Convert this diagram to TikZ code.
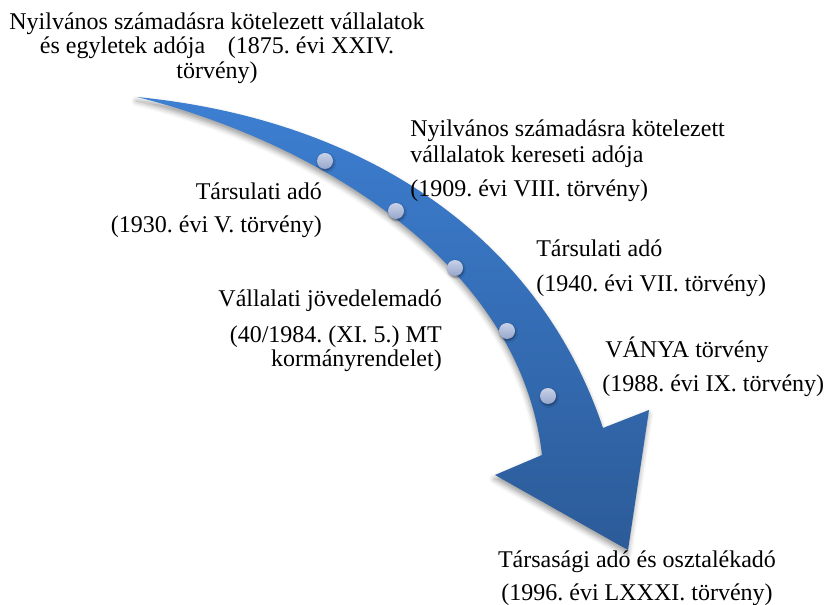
\documentclass[tikz,border=0pt]{standalone}
\usepackage{fontspec}
\setmainfont{Liberation Serif}
\usetikzlibrary{shadows.blur}

\definecolor{arrowtop}{RGB}{61,127,210}
\definecolor{arrowbot}{RGB}{44,91,152}
\definecolor{dottop}{RGB}{200,210,232}
\definecolor{dotbot}{RGB}{150,166,204}

\begin{document}
\frenchspacing
\begin{tikzpicture}[x=0.75pt,y=-0.75pt,
  lbl/.style={inner sep=0pt,font=\fontsize{18}{18}\selectfont},
  milestone/.style={circle,inner sep=0pt,minimum size=12pt,
    top color=dottop,bottom color=dotbot,draw=none,
    blur shadow={shadow xshift=0.6pt,shadow yshift=-1.2pt,shadow blur radius=1.5pt,shadow opacity=40}},
  bandshadow/.style={blur shadow={shadow xshift=-0.5pt,shadow yshift=-3pt,shadow blur radius=4pt,shadow opacity=40}}]
\useasboundingbox (0,0) rectangle (827,605);

% curved timeline arrow
\path[bandshadow,top color=arrowtop,bottom color=arrowbot]
  (137,97) .. controls (370,120) and (540,240) .. (603,428)
  -- (649,410) -- (628,550) -- (495,475) -- (542,455)
  .. controls (520,260) and (310,140) .. (137,97) -- cycle;

% milestones along the arrow
\node[milestone] (d1) at (325,161) {};
\node[milestone] (d2) at (396,211) {};
\node[milestone] (d3) at (455,268) {};
\node[milestone] (d4) at (507,331) {};
\node[milestone] (d5) at (548,396) {};

% 1875
\node[lbl,anchor=base] (t1875a) at (217,30) {Nyilvános számadásra kötelezett vállalatok};
\node[lbl,anchor=base] (t1875b) at (217,54) {és egyletek adója\hspace{17pt}(1875. évi XXIV.};
\node[lbl,anchor=base] (t1875c) at (217,79) {törvény)};

% 1909
\node[lbl,anchor=base west] (t1909a) at (410,137) {Nyilvános számadásra kötelezett};
\node[lbl,anchor=base west] (t1909b) at (410,163) {vállalatok kereseti adója};
\node[lbl,anchor=base west] (t1909c) at (410,197) {(1909. évi VIII. törvény)};

% 1930
\node[lbl,anchor=base east] (t1930a) at (322,200) {Társulati adó};
\node[lbl,anchor=base east] (t1930b) at (322,233) {(1930. évi V. törvény)};

% 1940
\node[lbl,anchor=base west] (t1940a) at (536,257) {Társulati adó};
\node[lbl,anchor=base west] (t1940b) at (536,292) {(1940. évi VII. törvény)};

% 1984
\node[lbl,anchor=base east] (t1984a) at (442,307) {Vállalati jövedelemadó};
\node[lbl,anchor=base east] (t1984b) at (442,343) {(40/1984. (XI. 5.) MT};
\node[lbl,anchor=base east] (t1984c) at (442,367) {kormányrendelet)};

% 1988
\node[lbl,anchor=base west] (t1988a) at (605,358) {VÁNYA törvény};
\node[lbl,anchor=base west] (t1988b) at (602,392) {(1988. évi IX. törvény)};

% 1996
\node[lbl,anchor=base] (t1996a) at (637,567) {Társasági adó és osztalékadó};
\node[lbl,anchor=base] (t1996b) at (637,600) {(1996. évi LXXXI. törvény)};
\end{tikzpicture}
\end{document}
